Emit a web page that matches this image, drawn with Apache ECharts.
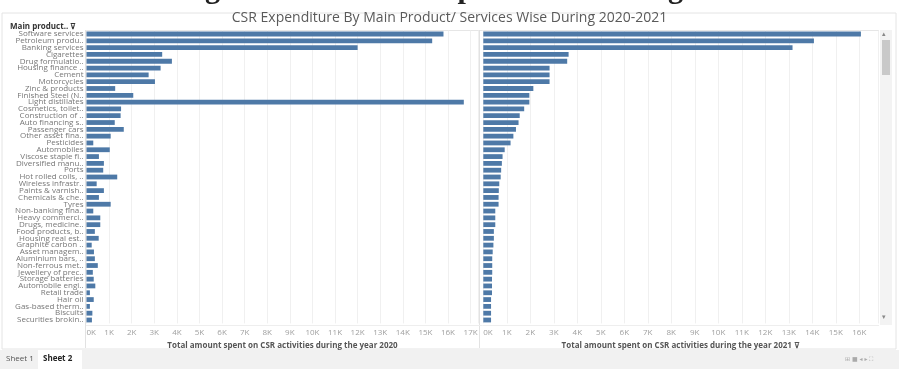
<!DOCTYPE html>
<html>
<head>
<meta charset="utf-8">
<script src="https://cdn.jsdelivr.net/npm/echarts@6/dist/echarts.min.js"></script>
<style>
html,body{margin:0;padding:0;background:#ffffff;}
#main{width:899px;height:369px;}
</style>
</head>
<body>
<div id="main"></div>
<script>
const categories = [
  "Software services","Petroleum produ..","Banking services","Cigarettes","Drug formulatio..",
  "Housing finance ..","Cement","Motorcycles","Zinc & products","Finished Steel (N..",
  "Light distillates","Cosmetics, toilet..","Construction of ..","Auto financing s..","Passenger cars",
  "Other asset fina..","Pesticides","Automobiles","Viscose staple fi..","Diversified manu..",
  "Ports","Hot rolled coils, ..","Wireless infrastr..","Paints & varnish..","Chemicals & che..",
  "Tyres","Non-banking fina..","Heavy commerci..","Drugs, medicine..","Food products, b..",
  "Housing real est..","Graphite carbon ..","Asset managem..","Aluminium bars, ..","Non-ferrous met..",
  "Jewellery of prec..","Storage batteries","Automobile engi..","Retail trade","Hair oil",
  "Gas-based therm..","Biscuits","Securities brokin.."
];
const spend2020 = [
  15800,15300,12000,3350,3780,
  3280,2750,3030,1270,2070,
  16700,1530,1510,1250,1650,
  1070,300,1030,550,770,
  740,1360,450,770,550,
  1070,300,610,610,370,
  540,230,330,370,500,
  280,320,390,150,320,
  150,260,240
];
const spend2021 = [
  16070,14070,13160,3630,3570,
  2820,2820,2820,2130,1960,
  1960,1740,1550,1500,1390,
  1280,1160,910,820,790,
  760,740,680,660,650,
  650,510,510,510,450,
  450,430,400,380,380,
  380,370,370,370,330,
  330,330,330
];
const tickStep = 1000;
const axisTitle2020 = "Total amount spent on CSR activities during the year 2020";
const axisTitle2021 = "Total amount spent on CSR activities during the year 2021 ⊽";

const FONT = "Open Sans";
const BAR = "#4e79a7";
const chart = echarts.init(document.getElementById('main'), null, {renderer:'canvas'});

function kFmt(v){ return (Math.abs(v % 1000) < 1e-6) ? (v/1000) + 'K' : ''; }

const gridTop = 30.6, gridH = 292.8;
const xBase = {
  type:'value', min:0, interval:tickStep,
  axisLine:{show:false}, axisTick:{show:false},
  splitLine:{show:true, lineStyle:{color:'#f0f0f0', width:1}},
  axisLabel:{color:'#a0a0a0', fontSize:8, fontFamily:FONT, margin:5, formatter:kFmt, alignMinLabel:'left'},
  nameLocation:'middle', nameGap:17,
  nameTextStyle:{color:'#555', fontSize:8, fontFamily:FONT, fontWeight:'bold'}
};

const option = {
  backgroundColor:'#ffffff',
  animation:false,
  title:{
    text:'CSR Expenditure By Main Product/ Services Wise During 2020-2021',
    left:'center', top:6,
    textStyle:{color:'#5a5a5a', fontSize:14, fontWeight:'normal', fontFamily:FONT}
  },
  graphic:[
    {type:'text', left:104, top:-25, silent:true,
      style:{text:'Tracking CSR Activities Expenditure Among Industries', fill:'#222', font:'bold 30px "Liberation Serif"'}},
    {type:'rect', shape:{x:2, y:13, width:894, height:336}, style:{fill:'none', stroke:'#e4e4e4', lineWidth:1}, z:-1},
    {type:'rect', shape:{x:0, y:350, width:899, height:19}, style:{fill:'#f1f1f1'}},
    {type:'rect', shape:{x:38, y:350, width:44, height:19}, style:{fill:'#ffffff'}},
    {type:'text', left:6, top:355, style:{text:'Sheet 1', fill:'#555', font:'8px "Open Sans"'}},
    {type:'text', left:43, top:355, style:{text:'Sheet 2', fill:'#222', font:'bold 8px "Open Sans"'}},
    {type:'text', left:845, top:356, style:{text:'⊞ ■ ◂ ▸ ⛶', fill:'#aaa', font:'6px "DejaVu Sans"'}},
    {type:'text', left:10, top:23, style:{text:'Main product.. ⊽', fill:'#333', font:'bold 8px "Open Sans"'}},
    {type:'line', shape:{x1:86, y1:30.5, x2:879, y2:30.5}, style:{stroke:'#e6e6e6', lineWidth:1}},
    {type:'line', shape:{x1:479.5, y1:30, x2:479.5, y2:348}, style:{stroke:'#e2e2e2', lineWidth:1}},
    {type:'line', shape:{x1:85.5, y1:30, x2:85.5, y2:348}, style:{stroke:'#e2e2e2', lineWidth:1}},
    {type:'line', shape:{x1:86, y1:325.5, x2:879, y2:325.5}, style:{stroke:'#eeeeee', lineWidth:1}},
    {type:'rect', shape:{x:880, y:30, width:12, height:295}, style:{fill:'#f3f3f3'}},
    {type:'rect', shape:{x:882, y:40, width:8, height:35}, style:{fill:'#c9c9c9'}},
    {type:'text', left:882, top:31, style:{text:'▴', fill:'#888', font:'7px "DejaVu Sans"'}},
    {type:'text', left:882, top:314, style:{text:'▾', fill:'#888', font:'7px "DejaVu Sans"'}}
  ],
  grid:[
    {left:86.5, top:gridTop, width:392, height:gridH, containLabel:false},
    {left:483.3, top:gridTop, width:395, height:gridH, containLabel:false}
  ],
  xAxis:[
    Object.assign({}, xBase, {gridIndex:0, max:17350, name:axisTitle2020}),
    Object.assign({}, xBase, {gridIndex:1, max:16810, name:axisTitle2021})
  ],
  yAxis:[
    {type:'category', gridIndex:0, data:categories, inverse:true,
      axisLine:{show:false}, axisTick:{show:false}, splitLine:{show:false},
      axisLabel:{color:'#777', fontSize:8, fontFamily:FONT, margin:3, interval:0}},
    {type:'category', gridIndex:1, data:categories, inverse:true,
      axisLine:{show:false}, axisTick:{show:false}, splitLine:{show:false},
      axisLabel:{show:false}}
  ],
  series:[
    {type:'bar', xAxisIndex:0, yAxisIndex:0, data:spend2020, barWidth:4.8,
      itemStyle:{color:BAR}},
    {type:'bar', xAxisIndex:1, yAxisIndex:1, data:spend2021, barWidth:4.8,
      itemStyle:{color:BAR}}
  ]
};
chart.setOption(option);
</script>
</body>
</html>
